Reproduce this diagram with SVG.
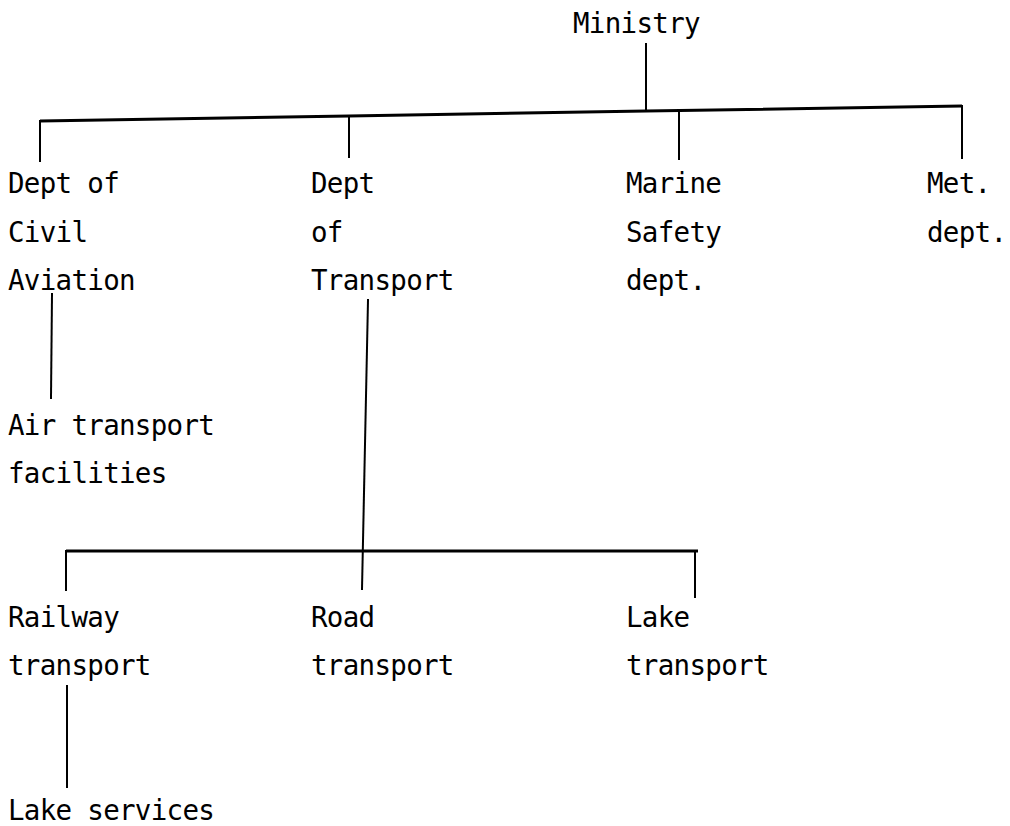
<svg xmlns="http://www.w3.org/2000/svg" width="1010" height="826" viewBox="0 0 1010 826">
<style>
text{font-family:"DejaVu Sans Mono","Liberation Mono",monospace;font-size:27.5px;letter-spacing:-0.7px;fill:#000}
.c{stroke:#000;stroke-width:2;fill:none;stroke-linecap:square}
.bar{stroke:#000;stroke-width:3;fill:none}
</style>
<rect width="1010" height="826" fill="#fff"/>
<g id="connectors">
<line class="c" x1="646" y1="44" x2="646" y2="111"/>
<polyline class="bar" points="40,121 349,116 646,111 962,106"/>
<line class="c" x1="40" y1="121" x2="40" y2="161"/>
<line class="c" x1="349" y1="116" x2="349" y2="157"/>
<line class="c" x1="679" y1="111" x2="679" y2="159"/>
<line class="c" x1="962" y1="106" x2="962" y2="158"/>
<line class="c" x1="52" y1="294" x2="51" y2="398"/>
<line class="c" x1="368" y1="300" x2="362" y2="589"/>
<line class="bar" x1="66" y1="551" x2="698" y2="551"/>
<line class="c" x1="66" y1="551" x2="66" y2="590"/>
<line class="c" x1="695" y1="551" x2="695" y2="597"/>
<line class="c" x1="67" y1="686" x2="67" y2="787"/>
</g>
<g id="ministry"><text x="573" y="33">Ministry</text></g>
<g id="civil-aviation"><text x="8" y="193">Dept of</text><text x="8" y="242">Civil</text><text x="8" y="290">Aviation</text></g>
<g id="transport"><text x="311" y="193">Dept</text><text x="311" y="242">of</text><text x="311" y="290">Transport</text></g>
<g id="marine"><text x="626" y="193">Marine</text><text x="626" y="242">Safety</text><text x="626" y="290">dept.</text></g>
<g id="met"><text x="927" y="193">Met.</text><text x="927" y="242">dept.</text></g>
<g id="air-transport"><text x="8" y="435">Air transport</text><text x="8" y="483">facilities</text></g>
<g id="railway"><text x="8" y="627">Railway</text><text x="8" y="675">transport</text></g>
<g id="road"><text x="311" y="627">Road</text><text x="311" y="675">transport</text></g>
<g id="lake"><text x="626" y="627">Lake</text><text x="626" y="675">transport</text></g>
<g id="lake-services"><text x="8" y="820">Lake services</text></g>
</svg>
